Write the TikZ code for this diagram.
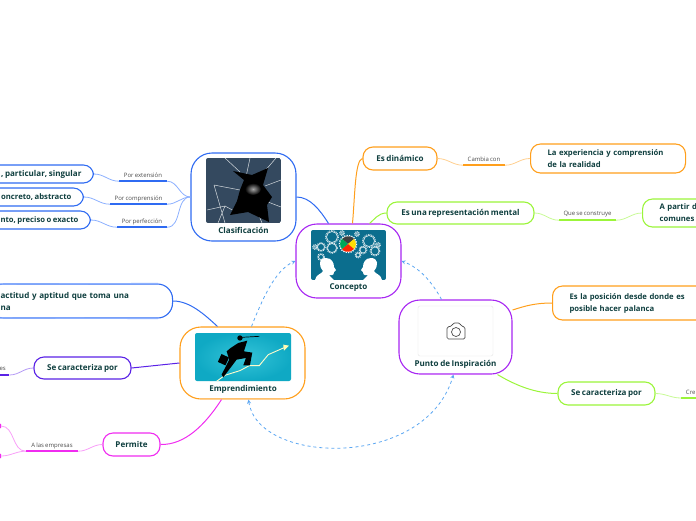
\documentclass[tikz,border=0pt]{standalone}
\usepackage{fontspec}
\setmainfont[WordSpace=0.75]{Open Sans}
\definecolor{txtgreen}{HTML}{0F3F3F}
\definecolor{azul}{HTML}{2F6BF2}
\definecolor{azulclaro}{HTML}{8CB0FF}
\definecolor{violeta}{HTML}{A726F2}
\definecolor{violetaclaro}{HTML}{CE75F8}
\definecolor{naranja}{HTML}{FF9F1C}
\definecolor{naranjaclaro}{HTML}{FFCF90}
\definecolor{verde}{HTML}{9BF53A}
\definecolor{verdeclaro}{HTML}{C8FA96}
\definecolor{indigo}{HTML}{5A22E6}
\definecolor{indigoclaro}{HTML}{B49AF5}
\definecolor{magenta2}{HTML}{F02CF0}
\definecolor{magentaclaro}{HTML}{F8A0F8}
\definecolor{enlace}{HTML}{5AA6F2}
\definecolor{vidrio}{HTML}{34495F}
\definecolor{petroleo}{HTML}{0B6E8E}
\definecolor{turquesa}{HTML}{0FA9C4}
\definecolor{turquesaluz}{HTML}{35C4D8}
\tikzset{
  topicbox/.style={draw=#1,fill=white,rounded corners=21pt,line width=1.1pt,inner sep=0pt},
  subbox/.style={draw=#1,fill=white,rounded corners=10pt,line width=1.1pt,font=\fontsize{8.05}{12}\selectfont\bfseries,text=txtgreen,inner ysep=0pt,inner xsep=0pt,align=left},
  textoapretado/.style={font=\fontsize{7.7}{12}\selectfont\bfseries},
  nodetxt/.style={font=\fontsize{8.05}{11}\selectfont\bfseries,text=txtgreen,inner sep=0pt},
  lbl/.style={font=\fontsize{6}{9}\selectfont,text=black!70,inner sep=0pt,minimum height=11pt},
  rama/.style={draw=#1,line width=1pt},
  hoja/.style={draw=#1,line width=.8pt},
  raya/.style={draw=#1,line width=1.5pt},
  enlaceflecha/.style={draw=enlace,line width=.8pt,dash pattern=on 3pt off 3pt,>=stealth}
}
\begin{document}
\begin{tikzpicture}[x=1pt,y=-1pt]
  \useasboundingbox (0,0) rectangle (696,520);
  \clip (0,0) rectangle (696,520);

  % Main boxes
  \node[topicbox=azul,minimum width=105pt,minimum height=88pt] (clasif) at (243.5,197) {};
  \node[topicbox=violeta,minimum width=105pt,minimum height=74pt] (concepto) at (348.5,261) {};
  \node[topicbox=naranja,minimum width=125pt,minimum height=72pt] (empren) at (242.5,363) {};
  \node[topicbox=violeta,minimum width=113pt,minimum height=74pt] (punto) at (455.5,337) {};
  \node[nodetxt] (clasifTxt) at (243.5,230) {Clasificación};
  \node[nodetxt] (conceptoTxt) at (348.5,288) {Concepto};
  \node[nodetxt] (emprenTxt) at (243,389) {Emprendimiento};
  \node[nodetxt] (puntoTxt) at (455.5,364) {Punto de Inspiración};

  % Boxes on the right
  \node[subbox=naranja,minimum width=74pt,minimum height=23pt] (dinamico) at (400,158.5) {Es dinámico};
  \node[subbox=naranja,textoapretado,anchor=west,inner xsep=17pt,text width=121pt,minimum height=29pt] (experiencia) at (530,158.5) {La experiencia y comprensión\\de la realidad};
  \node[subbox=verde,minimum width=147pt,minimum height=22pt] (repres) at (460.5,213) {Es una representación mental};
  \node[subbox=verde,textoapretado,anchor=west,inner xsep=17pt,text width=60pt,minimum height=28pt] (apartir) at (642,213) {A partir d\\comunes};
  \node[subbox=naranja,textoapretado,anchor=west,inner xsep=17pt,text width=150pt,minimum height=34pt] (palanca) at (552,303) {Es la posición desde donde es\\posible hacer palanca};
  \node[subbox=verde,minimum width=97pt,minimum height=23pt] (caractDer) at (606.5,393.5) {Se caracteriza por};

  % Boxes on the left
  \node[subbox=azul,anchor=east,inner xsep=12pt,minimum height=18pt] (singular) at (94,174) {, particular, singular};
  \node[subbox=azul,textoapretado,anchor=east,inner xsep=12pt,minimum height=18pt] (abstracto) at (84,197) {oncreto, abstracto};
  \node[subbox=azul,textoapretado,anchor=east,inner xsep=12pt,minimum height=18pt] (exacto) at (91,220) {nto, preciso o exacto};
  \node[subbox=azul,anchor=west,inner xsep=12pt,text width=160pt,minimum height=34pt,rounded corners=15pt] (actitud) at (-12,301) {actitud y aptitud que toma una\\na};
  \node[subbox=indigo,minimum width=97pt,minimum height=22pt] (caractIzq) at (82.5,368) {Se caracteriza por};
  \node[subbox=magenta2,minimum width=57pt,minimum height=23pt] (permite) at (131.5,444.5) {Permite};
  \node[subbox=magenta2,anchor=east,minimum width=30pt,minimum height=16pt] (hojaA) at (1,426) {};
  \node[subbox=magenta2,anchor=east,minimum width=30pt,minimum height=16pt] (hojaB) at (1,456) {};

  % Lighter lower edges
  \foreach \n/\c in {concepto/violetaclaro,empren/naranjaclaro,punto/violetaclaro}
    \draw[line width=1.1pt,\c] ([xshift=21pt]\n.south west) -- ([xshift=-21pt]\n.south east);
  \draw[line width=1.1pt,azulclaro] (0,284) -- ([xshift=-15pt]actitud.north east) (0,318) -- ([xshift=-15pt]actitud.south east);

  % Labels with their line
  \node[lbl,minimum width=48pt] (ext) at (143,175.5) {Por extensión};
  \node[lbl,minimum width=57pt] (compr) at (138.5,198.5) {Por comprensión};
  \node[lbl,minimum width=50pt] (perf) at (142,221.5) {Por perfección};
  \node[lbl,minimum width=42pt] (cambia) at (484,159.5) {Cambia con};
  \node[lbl,minimum width=57pt] (construye) at (587.5,214.5) {Que se construye};
  \node[lbl,minimum width=52pt] (empresas) at (52,445.5) {A las empresas};
  \node[lbl,minimum width=15pt,anchor=south west] (crea) at (681,398) {\hspace{4pt}Cre};
  \node[lbl,minimum width=13pt,anchor=south west] (es) at (-4,375) {es};
  \foreach \n/\c in {ext/azul,compr/azul,perf/azul,cambia/naranja,construye/verde,empresas/magenta2,crea/verde,es/indigo}
    \draw[raya=\c] (\n.south west) -- (\n.south east);

  % Branches
  \draw[rama=azul] (clasif.east) .. controls (310,197) and (320,210) .. ([xshift=-20pt]concepto.north);
  \draw[rama=naranja] ([xshift=4pt]concepto.north) .. controls (355,195) and (355,160) .. (dinamico.west);
  \draw[rama=verde] ([xshift=21pt]concepto.north) .. controls (374,220) and (378,213) .. (repres.west);
  \draw[rama=naranja] ([yshift=27pt]punto.east) .. controls (525,306) and (535,303) .. (palanca.west);
  \draw[rama=verde] ([xshift=42pt]punto.south) .. controls (515,385) and (535,393.5) .. (caractDer.west);
  \draw[rama=azul] ([xshift=-25pt]empren.north) .. controls (205,315) and (190,301) .. (actitud.east);
  \draw[rama=indigo] (empren.west) -- (caractIzq.east);
  \draw[rama=magenta2] ([xshift=-21pt]empren.south) .. controls (205,425) and (185,445) .. (permite.east);

  % Thin branches
  \foreach \a/\b/\c in {ext.south east/clasif.west/azulclaro,compr.south east/clasif.west/azulclaro,perf.south east/clasif.west/azulclaro,dinamico.east/cambia.south west/naranjaclaro,cambia.south east/experiencia.west/naranjaclaro,repres.east/construye.south west/verdeclaro,construye.south east/apartir.west/verdeclaro,caractDer.east/crea.south west/verdeclaro,empresas.south east/permite.west/magentaclaro,hojaA.east/empresas.south west/magentaclaro,hojaB.east/empresas.south west/magentaclaro,es.south east/caractIzq.west/indigoclaro,singular.east/ext.south west/azulclaro,abstracto.east/compr.south west/azulclaro,exacto.east/perf.south west/azulclaro}
    \draw[hoja=\c] (\a) to[out=0,in=180] (\b);

  % Relations
  \draw[enlaceflecha,->] ([xshift=9pt]empren.north) .. controls (262,300) and (275,270) .. (concepto.west);
  \draw[enlaceflecha,->] ([xshift=-14pt]punto.north) .. controls (432,282) and (420,268) .. (concepto.east);
  \draw[enlaceflecha,<->] ([xshift=6pt]empren.south) .. controls (258,465) and (425,470) .. ([xshift=-2pt]punto.south);

  % Picture of the glass
  \begin{scope}
    \clip[rounded corners=2pt] (206,158) rectangle (281,223);
    \fill[vidrio] (206,158) rectangle (281,223);
    \draw[white!80!vidrio,line width=.5pt] (225,158) -- (240,172) (250,158) -- (246,177) (281,180) -- (265,186) (281,207) -- (268,202) (214,185) -- (240,190) (214,185) -- (225,223) (207,210) -- (225,206) -- (236,212) (225,206) -- (218,223) (262,223) -- (258,213) (276,158) -- (264,172);
    \fill[black] (233,171) -- (252,175) -- (268,168) -- (263,185) -- (272,197) -- (267,205) -- (269,222) -- (248,212) -- (230,215) -- (237,201) -- (240,190) -- (244,180) -- cycle;
    \shade[inner color=gray!70,outer color=black] (253,189) ellipse (8pt and 6pt);
  \end{scope}

  % Picture of the heads
  \begin{scope}
    \clip[rounded corners=2pt] (311,230) rectangle (386,280);
    \fill[petroleo] (311,230) rectangle (386,280);
    \foreach \x/\y/\r in {332/237/5.5,332/248/4.5,321/247/3.5,321/257/2.5,369/241/5.5,375/251/4,363/250/3,358/255/2,357/234/1.5,342/233/1.5,378/245/1.5,315/247/1.5}{
      \draw[white!85!petroleo,line width=.7pt] (\x,\y) circle (\r);
      \draw[white!85!petroleo,line width=1pt,dash pattern=on .9pt off .9pt] (\x,\y) circle (\r+.9);
    }
    \fill[white] (315,280) .. controls (316,274) and (322,274) .. (323,271) .. controls (318,265) and (319,258) .. (326,258) .. controls (332,258) and (334,263) .. (334,267) -- (336,270) -- (334,272) .. controls (334,276) and (331,275) .. (329,275) .. controls (330,277) and (333,278) .. (334,280) -- cycle;
    \fill[white] (382,280) .. controls (381,274) and (375,274) .. (374,271) .. controls (379,265) and (378,258) .. (371,258) .. controls (365,258) and (363,263) .. (363,267) -- (361,270) -- (363,272) .. controls (363,276) and (366,275) .. (368,275) .. controls (367,277) and (364,278) .. (363,280) -- cycle;
    \draw[white,line width=1.5pt,dash pattern=on 1.2pt off 1.2pt] (348,244) circle (8.5);
    \fill[white] (348,244) circle (8);
    \fill[black!75] (348,244) -- (342,239) arc (220:320:8) -- cycle;
    \fill[yellow!80!orange] (348,244) -- (354,239) arc (-40:40:8) -- cycle;
    \fill[red!70!orange] (348,244) -- (354,249) arc (40:140:8) -- cycle;
    \fill[teal!70!green] (348,244) -- (342,249) arc (140:220:8) -- cycle;
  \end{scope}

  % Picture of the runner
  \begin{scope}
    \clip[rounded corners=2pt] (195,333) rectangle (291,381);
    \shade[inner color=turquesaluz,outer color=turquesa] (195,333) rectangle (291,381);
    \begin{scope}[shift={(190,328)},x=.333pt,y=-.333pt]
      \draw[yellow!20!white,line width=.9pt] (80,160) -- (105,142) -- (150,128) -- (178,113) -- (208,113) -- (235,80) -- (285,58);
      \fill[yellow!30!white] (297,53) -- (280,50) -- (282,68) -- cycle;
      \fill[black] (122,60) -- (145,45) -- (172,38) -- (162,70) -- (187,74) -- (180,112) -- (160,112) -- (168,90) -- (140,95) -- (100,148) -- (95,140) -- (118,95) -- (110,70) -- cycle;
      \fill[black] (150,30) circle (8);
      \draw[black,line width=.7pt] (155,28) -- (208,25);
      \fill[black,rotate around={-25:(100,95)}] (88,82) rectangle (113,108);
    \end{scope}
  \end{scope}

  % Empty picture with the camera
  \draw[black!10,fill=white,rounded corners=2pt] (418,306) rectangle (493,356);
  \draw[black!70,line width=.7pt,rounded corners=1.5pt] (447,327) -- (452,326) -- (453,323) -- (460,323) -- (461,326) -- (465,327) -- (465,339) -- (447,339) -- cycle;
  \draw[black!70,line width=.7pt] (456,332) circle (4.5);
\end{tikzpicture}
\end{document}
